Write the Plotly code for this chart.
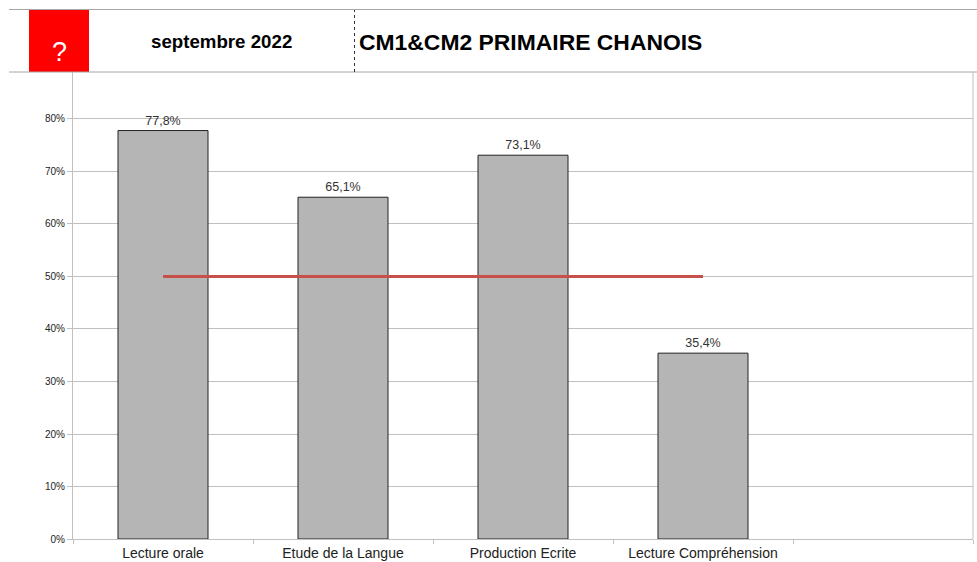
import plotly.graph_objects as go

categories = ["Lecture orale", "Etude de la Langue", "Production Ecrite", "Lecture Compréhension", " "]
scores = [77.8, 65.1, 73.1, 35.4, None]
score_labels = ["77,8%", "65,1%", "73,1%", "35,4%", ""]
threshold = [50, 50, 50, 50, None]
y_ticks = [0, 10, 20, 30, 40, 50, 60, 70, 80]
y_tick_labels = ["0%", "10%", "20%", "30%", "40%", "50%", "60%", "70%", "80%"]

W, H = 977, 562
L, R, T, B = 73, 4, 72, 23
FONT = "Liberation Sans, Arial, sans-serif"
GRID = "#c0c0c0"


def px(x):
    return (x - L) / (W - L - R)


def py(y):
    return (H - B - y) / (H - T - B)


fig = go.Figure()
fig.add_bar(
    x=categories, y=scores, text=score_labels, textposition="outside", cliponaxis=False,
    textfont=dict(size=12.5, color="#333333", family=FONT),
    marker=dict(color="#b5b5b5", line=dict(color="#222222", width=1)),
    width=0.5, hoverinfo="skip",
)
fig.add_scatter(
    x=categories, y=threshold, mode="lines",
    line=dict(color="#c8504a", width=2.8), hoverinfo="skip",
)

shapes = [
    dict(type="rect", xref="paper", yref="paper", x0=px(29), x1=px(89), y0=py(72), y1=py(10),
         fillcolor="#ff0000", line=dict(width=0), layer="above"),
    dict(type="line", xref="paper", yref="paper", x0=px(9), x1=px(977), y0=py(9.5), y1=py(9.5),
         line=dict(color="#a6a6a6", width=1)),
    dict(type="line", xref="paper", yref="paper", x0=px(9), x1=px(977), y0=py(72), y1=py(72),
         line=dict(color="#a6a6a6", width=1)),
    dict(type="line", xref="paper", yref="paper", x0=px(354.5), x1=px(354.5), y0=py(72), y1=py(10),
         line=dict(color="#333333", width=1, dash="dot")),
    dict(type="line", xref="paper", yref="paper", x0=px(973), x1=px(973), y0=py(539), y1=py(72),
         line=dict(color=GRID, width=1)),
]

annotations = [
    dict(text="?", x=px(59), y=py(52), xanchor="center", font=dict(size=27, color="#ffffff", family=FONT)),
    dict(text="<b>septembre 2022</b>", x=px(221.5), y=py(42), xanchor="center", font=dict(size=18.7, color="#000000", family=FONT)),
    dict(text="<b>CM1&CM2 PRIMAIRE CHANOIS</b>", x=px(357), y=py(42), xanchor="left",
         font=dict(size=22.9, color="#000000", family=FONT)),
]
for a in annotations:
    a.update(xref="paper", yref="paper", showarrow=False, yanchor="middle")

fig.update_layout(
    width=W, height=H, autosize=False, showlegend=False,
    margin=dict(l=L, r=R, t=T, b=B, pad=0, autoexpand=False),
    paper_bgcolor="#ffffff", plot_bgcolor="#ffffff",
    bargap=0.5, shapes=shapes, annotations=annotations,
    font=dict(family=FONT, color="#333333"),
)
fig.update_xaxes(
    type="category", categoryorder="array", categoryarray=categories,
    tickson="boundaries", ticks="outside", ticklen=4, tickcolor=GRID, tickwidth=1,
    ticklabelstandoff=1, automargin=False,
    showline=True, linecolor=GRID, linewidth=1, showgrid=False,
    tickfont=dict(size=14, color="#222222", family=FONT), range=[-0.5, 4.5],
)
fig.update_yaxes(
    range=[0, 88.95], tickmode="array", tickvals=y_ticks, ticktext=y_tick_labels,
    ticks="outside", ticklen=5, tickcolor=GRID, tickwidth=1, automargin=False,
    showline=True, linecolor=GRID, linewidth=1,
    showgrid=True, gridcolor=GRID, gridwidth=1, zeroline=False,
    tickfont=dict(size=10, color="#222222", family=FONT),
)

fig.write_html(
    "out.html",
    config={"displayModeBar": False},
    post_script="document.body.style.margin='0';document.body.style.overflow='hidden';",
)
